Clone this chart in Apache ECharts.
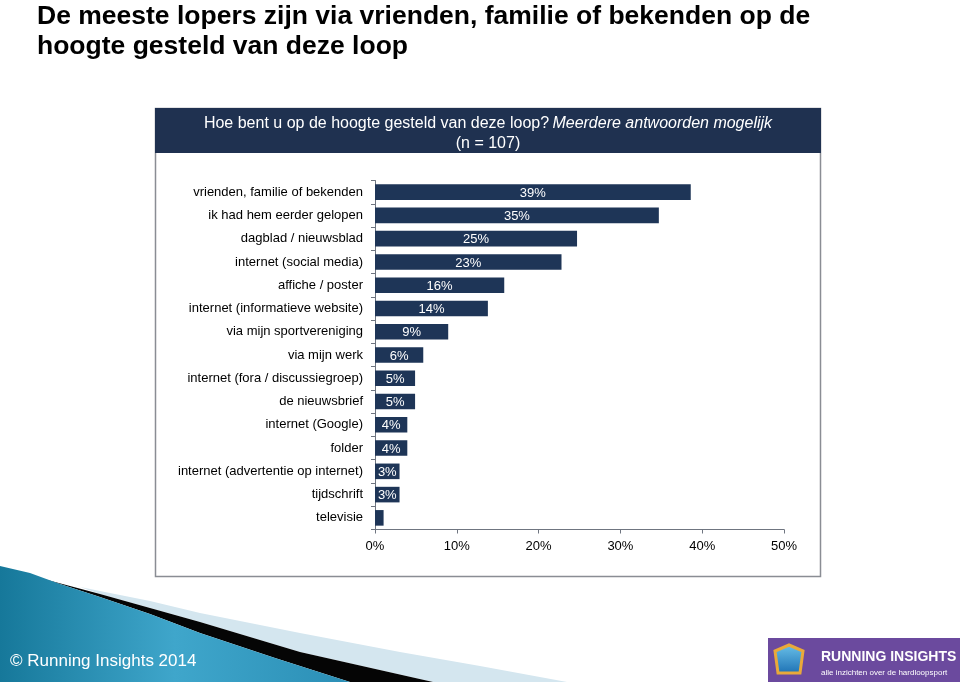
<!DOCTYPE html>
<html>
<head>
<meta charset="utf-8">
<script src="https://cdn.jsdelivr.net/npm/echarts@6/dist/echarts.min.js"></script>
<style>
html,body{margin:0;padding:0;background:#fff;}
#chart{width:960px;height:682px;}
</style>
</head>
<body>
<div id="chart"></div>
<script>
var categories = [
  'vrienden, familie of bekenden',
  'ik had hem eerder gelopen',
  'dagblad / nieuwsblad',
  'internet (social media)',
  'affiche / poster',
  'internet (informatieve website)',
  'via mijn sportvereniging',
  'via mijn werk',
  'internet (fora / discussiegroep)',
  'de nieuwsbrief',
  'internet (Google)',
  'folder',
  'internet (advertentie op internet)',
  'tijdschrift',
  'televisie'
];
var values = [38.6, 34.7, 24.7, 22.8, 15.8, 13.8, 8.95, 5.9, 4.9, 4.9, 3.95, 3.95, 3.0, 3.0, 1.05];
var valueLabels = ['39%', '35%', '25%', '23%', '16%', '14%', '9%', '6%', '5%', '5%', '4%', '4%', '3%', '3%', ''];
var xTicks = [0, 10, 20, 30, 40, 50];

var titleLines = ['De meeste lopers zijn via vrienden, familie of bekenden op de', 'hoogte gesteld van deze loop'];
var questionText = 'Hoe bent u op de hoogte gesteld van deze loop?';
var questionNote = 'Meerdere antwoorden mogelijk';
var sampleText = '(n = 107)';
var footerText = '\u00A9 Running Insights 2014';

var navy = '#1e3557';
var font = '"Liberation Sans", Arial, sans-serif';

var chart = echarts.init(document.getElementById('chart'), null, {renderer: 'canvas'});

var option = {
  backgroundColor: '#ffffff',
  animation: false,
  textStyle: {fontFamily: font},
  grid: {left: 375, right: 176, top: 180.5, bottom: 152.5, containLabel: false},
  xAxis: {
    type: 'value',
    min: xTicks[0],
    max: xTicks[xTicks.length - 1],
    interval: 10,
    axisLine: {show: true, lineStyle: {color: '#6f7580', width: 1}},
    axisTick: {show: true, length: 4, lineStyle: {color: '#6f7580'}},
    splitLine: {show: false},
    axisLabel: {color: '#000', fontSize: 13, fontFamily: font, margin: 10, formatter: function (v) { return v + '%'; }}
  },
  yAxis: {
    type: 'category',
    inverse: true,
    data: categories,
    axisLine: {show: true, lineStyle: {color: '#6f7580', width: 1}},
    axisTick: {show: true, length: 4, lineStyle: {color: '#6f7580'}},
    axisLabel: {color: '#000', fontSize: 13, fontFamily: font, margin: 12, padding: [2, 0, 0, 0]}
  },
  series: [{
    type: 'bar',
    data: values,
    barCategoryGap: '33%',
    itemStyle: {color: navy},
    label: {
      show: true,
      position: 'inside',
      color: '#fff',
      fontSize: 13,
      fontFamily: font,
      offset: [0, 1],
      formatter: function (p) { return valueLabels[p.dataIndex]; }
    }
  }],
  graphic: [
    // outer box
    {type: 'rect', z: -10, shape: {x: 155.5, y: 108.5, width: 665, height: 468}, style: {fill: '#fff', stroke: '#8a8d94', lineWidth: 1.5}},
    // header band
    {type: 'rect', z: -5, shape: {x: 155, y: 108, width: 666, height: 45}, style: {fill: '#1f3150'}},
    {type: 'text', z: 10, x: 488, y: 114, style: {
      text: '{n|' + questionText + '} {i|' + questionNote + '}\n{n|' + sampleText + '}',
      align: 'center',
      verticalAlign: 'top',
      rich: {
        n: {fill: '#fff', fontSize: 16, fontFamily: font, lineHeight: 20, align: 'center'},
        i: {fill: '#fff', fontSize: 16, fontFamily: font, fontStyle: 'italic', lineHeight: 20, align: 'center'}
      }
    }},
    // title
    {type: 'text', x: 37, y: 2, style: {text: titleLines.join('\n'), fill: '#000', font: 'bold 26.5px ' + font, lineHeight: 30, verticalAlign: 'top'}},
    // bottom decoration: light blue band
    {type: 'polygon', z: -20, shape: {points: [[80, 587], [150, 601], [200, 613], [300, 633], [400, 652], [480, 666], [567, 682], [433, 682], [300, 652], [200, 622], [150, 608], [100, 594]]}, style: {fill: '#d4e6ef'}},
    // black stripe
    {type: 'polygon', z: -19, shape: {points: [[40, 578], [100, 594], [150, 608], [200, 622], [300, 652], [433, 682], [350, 682], [275, 658], [200, 633], [150, 614], [100, 597], [60, 584]]}, style: {fill: '#050505'}},
    // main blue
    {type: 'polygon', z: -18, shape: {points: [[0, 566], [30, 573], [60, 584], [100, 597], [150, 614], [200, 633], [275, 658], [350, 682], [0, 682]]},
      style: {fill: new echarts.graphic.LinearGradient(0, 0, 1, 0, [{offset: 0, color: '#16789a'}, {offset: 0.5, color: '#3fa6cb'}, {offset: 1, color: '#2b8fb6'}])}},
    {type: 'text', z: 5, x: 10, y: 653, style: {text: footerText, fill: '#fff', font: '17px ' + font, verticalAlign: 'top'}},
    // logo
    {type: 'rect', z: 1, shape: {x: 768, y: 638, width: 192, height: 44}, style: {fill: '#6b4a9e'}},
    {type: 'polygon', z: 2, shape: {points: [[789, 645], [803, 651], [800, 673], [778, 673], [775, 651]]},
      style: {fill: new echarts.graphic.LinearGradient(0, 0, 0, 1, [{offset: 0, color: '#6cc3ea'}, {offset: 1, color: '#1b6fb3'}]), stroke: '#e9a93a', lineWidth: 3}},
    {type: 'text', z: 3, x: 821, y: 650, style: {text: 'RUNNING INSIGHTS', fill: '#fff', font: 'bold 14px ' + font, verticalAlign: 'top'}},
    {type: 'text', z: 3, x: 821, y: 669, style: {text: 'alle inzichten over de hardloopsport', fill: '#fff', font: '8px ' + font, verticalAlign: 'top'}}
  ]
};
chart.setOption(option);
</script>
</body>
</html>
